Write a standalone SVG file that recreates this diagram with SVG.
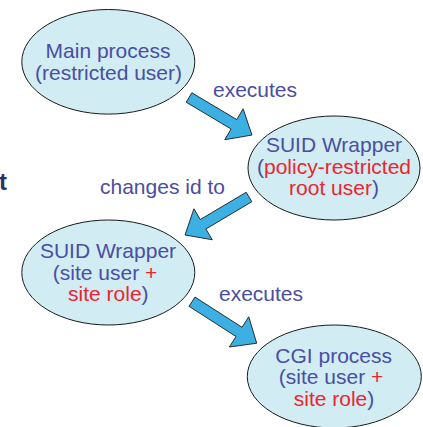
<svg xmlns="http://www.w3.org/2000/svg" width="423" height="427" viewBox="0 0 423 427">
  <style>
    .node ellipse { fill: #d1ecf2; stroke: #1a1a1a; stroke-width: 1; }
    .lbl { font-family: "Liberation Sans", Arial, sans-serif; font-size: 21px; fill: #4a4ea3; text-anchor: middle; }
    .red { fill: #ec2530; }
    /* block arrows: drawn along +x from the tail, then placed with translate/rotate */
    .edge { fill: #3cb0e2; stroke: #1a1a1a; stroke-width: 0.8; stroke-linejoin: miter; }
    .elbl { font-family: "Liberation Sans", Arial, sans-serif; font-size: 21px; fill: #4a4ea3; }
  </style>
  <rect width="423" height="427" fill="#ffffff"/>

  <!-- edge of a bold title cut off at the left border -->
  <text x="-1" y="190" font-family="'Liberation Sans', Arial, sans-serif" font-size="24" font-weight="bold" fill="#2d2f66">t</text>

  <g id="connectors">
    <polygon class="edge" points="0,-5.5 52.3,-5.5 52.3,-18 73.3,0 52.3,18 52.3,5.5 0,5.5" transform="translate(189,97.5) rotate(30.8)"/>
    <polygon class="edge" points="0,-5.5 53.4,-5.5 53.4,-18 74.4,0 53.4,18 53.4,5.5 0,5.5" transform="translate(249,197) rotate(149.3)"/>
    <polygon class="edge" points="0,-5.5 55.9,-5.5 55.9,-18 76.9,0 55.9,18 55.9,5.5 0,5.5" transform="translate(192,301.7) rotate(32.7)"/>
    <text class="elbl" x="213" y="96.5">executes</text>
    <text class="elbl" x="100" y="194.3">changes id to</text>
    <text class="elbl" x="219" y="301.3">executes</text>
  </g>

  <g id="main-process" class="node">
    <ellipse cx="108.3" cy="61.8" rx="86.5" ry="52.3"/>
    <text class="lbl" x="108" y="58.3">Main process</text>
    <text class="lbl" x="108.5" y="80">(restricted user)</text>
  </g>

  <g id="suid-wrapper-root" class="node">
    <ellipse cx="334" cy="168" rx="86" ry="52"/>
    <text class="lbl" x="334" y="152">SUID Wrapper</text>
    <text class="lbl" x="334" y="174">(<tspan class="red">policy-restricted</tspan></text>
    <text class="lbl" x="334" y="195"><tspan class="red">root user</tspan>)</text>
  </g>

  <g id="suid-wrapper-site" class="node">
    <ellipse cx="108.3" cy="272.5" rx="86.5" ry="52.5"/>
    <text class="lbl" x="108" y="258.3">SUID Wrapper</text>
    <text class="lbl" x="105" y="279.5">(site user <tspan class="red">+</tspan></text>
    <text class="lbl" x="108.3" y="301"><tspan class="red">site role</tspan>)</text>
  </g>

  <g id="cgi-process" class="node">
    <ellipse cx="334.3" cy="376.5" rx="87" ry="51.5"/>
    <text class="lbl" x="333.7" y="362.7">CGI process</text>
    <text class="lbl" x="331" y="384.3">(site user <tspan class="red">+</tspan></text>
    <text class="lbl" x="334" y="406"><tspan class="red">site role</tspan>)</text>
  </g>
</svg>
